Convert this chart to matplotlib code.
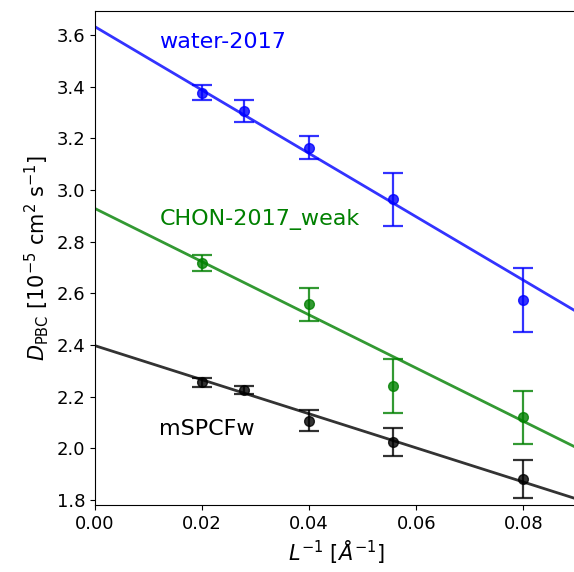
import matplotlib
matplotlib.use("Agg")
import matplotlib.pyplot as plt
import numpy as np

# Data
series_names = ["water-2017", "CHON-2017_weak", "mSPCFw"]
series_colors = ["blue", "green", "black"]

water_x = [0.02, 1/36, 0.04, 1/18, 0.08]
water_y = [3.377, 3.306, 3.164, 2.964, 2.574]
water_err = [0.030, 0.043, 0.046, 0.102, 0.124]

chon_x = [0.02, 0.04, 1/18, 0.08]
chon_y = [2.718, 2.557, 2.242, 2.120]
chon_err = [0.030, 0.063, 0.105, 0.102]

mspc_x = [0.02, 1/36, 0.04, 1/18, 0.08]
mspc_y = [2.255, 2.226, 2.106, 2.023, 1.880]
mspc_err = [0.018, 0.016, 0.041, 0.055, 0.074]

# fitted lines: intercept, slope
fit_intercepts = [3.632, 2.928, 2.397]
fit_slopes = [-12.27, -10.3, -6.6]

label_x = [0.012, 0.012, 0.012]
label_y = [3.573, 2.884, 2.075]

xs = [water_x, chon_x, mspc_x]
ys = [water_y, chon_y, mspc_y]
errs = [water_err, chon_err, mspc_err]

fig = plt.figure(figsize=(5.74, 5.72), dpi=100)
ax = fig.add_axes([95/574, 67/572, 482/574, 494/572])

xlim = (0, 0.09)
xx = np.linspace(xlim[0], xlim[1], 50)
for i in range(3):
    ax.errorbar(xs[i], ys[i], yerr=errs[i], fmt='o', color=series_colors[i],
                alpha=0.8, markersize=7, capsize=7.5, elinewidth=1.6,
                capthick=1.6)
    ax.plot(xx, fit_intercepts[i] + fit_slopes[i] * xx, color=series_colors[i],
            alpha=0.8, lw=2)
    ax.text(label_x[i], label_y[i], series_names[i], color=series_colors[i],
            fontsize=16, va='center', ha='left')

ax.set_xlim(*xlim)
ax.set_ylim(1.78, 3.693)
ax.set_xticks([0.0, 0.02, 0.04, 0.06, 0.08])
ax.set_xticklabels(["0.00", "0.02", "0.04", "0.06", "0.08"])
ax.set_yticks(np.arange(1.8, 3.61, 0.2))
ax.tick_params(labelsize=13)
ax.set_xlabel(r"$L^{-1}$ [$Å^{-1}$]", fontsize=15)
ax.set_ylabel(r"$D_{\rm PBC}$ [10$^{-5}$ cm$^2$ s$^{-1}$]", fontsize=15)

fig.savefig("out.png", dpi=100)
